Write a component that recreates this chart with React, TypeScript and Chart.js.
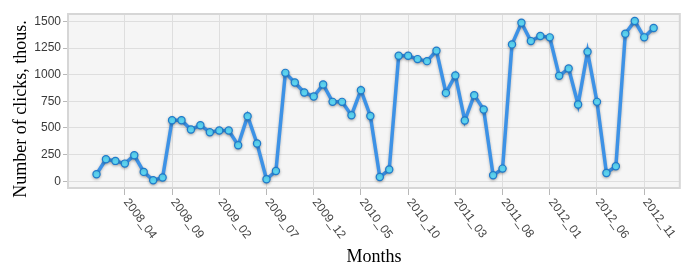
import React, { useEffect, useRef } from "react";
import { Chart, registerables } from "chart.js";

Chart.register(...registerables);

const months: string[] = [
  "2008_01", "2008_02", "2008_03", "2008_04", "2008_05", "2008_06", "2008_07", "2008_08", "2008_09", "2008_10", "2008_11", "2008_12",
  "2009_01", "2009_02", "2009_03", "2009_04", "2009_05", "2009_06", "2009_07", "2009_08", "2009_09", "2009_10", "2009_11", "2009_12",
  "2010_01", "2010_02", "2010_03", "2010_04", "2010_05", "2010_06", "2010_07", "2010_08", "2010_09", "2010_10", "2010_11", "2010_12",
  "2011_01", "2011_02", "2011_03", "2011_04", "2011_05", "2011_06", "2011_07", "2011_08", "2011_09", "2011_10", "2011_11", "2011_12",
  "2012_01", "2012_02", "2012_03", "2012_04", "2012_05", "2012_06", "2012_07", "2012_08", "2012_09", "2012_10", "2012_11", "2012_12",
];

const clicks: number[] = [
  66, 207, 191, 166, 244, 88, 9, 35, 573, 573, 485, 526,
  460, 476, 476, 338, 611, 354, 19, 97, 1017, 927, 833, 795,
  908, 745, 745, 620, 855, 613, 40, 110, 1177, 1177, 1146, 1127,
  1224, 829, 993, 570, 808, 673, 56, 119, 1284, 1487, 1315, 1362,
  1350, 989, 1058, 720, 1215, 745, 78, 141, 1384, 1503, 1350, 1437,
];

const xTickLabels: string[] = [
  "2008_04", "2008_09", "2009_02", "2009_07", "2009_12", "2010_05",
  "2010_10", "2011_03", "2011_08", "2012_01", "2012_06", "2012_11",
];

const yTicks: number[] = [0, 250, 500, 750, 1000, 1250, 1500];

const yTitle = "Number of clicks, thous.";
const xTitle = "Months";

const decor = {
  id: "decor",
  beforeDraw(chart: any) {
    const { ctx, chartArea: a } = chart;
    ctx.save();
    ctx.fillStyle = "#f5f5f5";
    ctx.fillRect(a.left, a.top, a.right - a.left, a.bottom - a.top);
    ctx.restore();
  },
  beforeDatasetsDraw(chart: any) {
    const { ctx, chartArea: a } = chart;
    ctx.save();
    ctx.strokeStyle = "#d6d6d6";
    ctx.lineWidth = 2;
    ctx.strokeRect(a.left, a.top, a.right - a.left, a.bottom - a.top);
    ctx.restore();
  },
  beforeDatasetDraw(chart: any) {
    const ctx = chart.ctx;
    ctx.save();
    ctx.shadowColor = "rgba(0,0,0,0.25)";
    ctx.shadowBlur = 3;
    ctx.shadowOffsetX = 0;
    ctx.shadowOffsetY = 1;
  },
  afterDatasetDraw(chart: any) {
    chart.ctx.restore();
  },
  afterDraw(chart: any) {
    const { ctx, chartArea: a } = chart;
    const xs = chart.scales.x;
    ctx.save();
    ctx.font = '12px "Liberation Sans", Arial, sans-serif';
    ctx.fillStyle = "#444";
    ctx.textAlign = "left";
    ctx.textBaseline = "middle";
    xTickLabels.forEach((lab) => {
      const px = xs.getPixelForValue(months.indexOf(lab));
      ctx.save();
      ctx.translate(px + 1, a.bottom + 12);
      ctx.rotate((53 * Math.PI) / 180);
      ctx.fillText(lab, 0, 0);
      ctx.restore();
    });
    ctx.fillStyle = "#000";
    ctx.font = '18px "Liberation Serif", "Times New Roman", serif';
    ctx.textAlign = "center";
    ctx.textBaseline = "middle";
    ctx.fillText(xTitle, (a.left + a.right) / 2, 257);
    ctx.save();
    ctx.translate(21, 109);
    ctx.rotate(-Math.PI / 2);
    ctx.fillText(yTitle, 0, 0);
    ctx.restore();
    ctx.restore();
  },
};

export default function App() {
  const ref = useRef<HTMLCanvasElement | null>(null);

  useEffect(() => {
    document.body.style.margin = "0";
    const canvas = ref.current;
    if (!canvas) return;
    const chart = new Chart(canvas, {
      type: "line",
      data: {
        datasets: [
          {
            label: "Clicks",
            data: clicks.map((v, i) => ({ x: i, y: v })),
            borderColor: "#3d92e6",
            borderWidth: 3.5,
            pointRadius: 3.6,
            pointBackgroundColor: "#5fdaf8",
            pointBorderColor: "#1f7acb",
            pointBorderWidth: 1.2,
            tension: 0,
            fill: false,
          },
        ],
      },
      options: {
        responsive: false,
        animation: false,
        layout: { padding: { top: 14, right: 2, left: 0, bottom: 0 } },
        plugins: {
          legend: { display: false },
          tooltip: { enabled: false },
          title: { display: false },
        },
        scales: {
          x: {
            type: "linear",
            min: -3.02,
            max: 61.77,
            afterBuildTicks: (scale: any) => {
              scale.ticks = xTickLabels.map((l) => ({ value: months.indexOf(l) }));
            },
            afterFit: (scale: any) => {
              scale.height = 78;
            },
            ticks: { display: false },
            grid: {
              color: "#dedede",
              lineWidth: 1,
              drawTicks: true,
              tickLength: 7,
              tickColor: "#b8b8b8",
            },
            border: { display: false },
          },
          y: {
            type: "linear",
            min: -63,
            max: 1569,
            afterBuildTicks: (scale: any) => {
              scale.ticks = yTicks.map((v) => ({ value: v }));
            },
            afterFit: (scale: any) => {
              scale.width = 68;
            },
            ticks: {
              padding: 2,
              color: "#3a3a3a",
              font: { family: '"Liberation Sans", Arial, sans-serif', size: 12 },
              callback: (v: any) => String(v),
            },
            grid: {
              color: "#dedede",
              lineWidth: 1,
              drawTicks: true,
              tickLength: 5,
              tickColor: "#b8b8b8",
            },
            border: { display: false },
          },
        },
      },
      plugins: [decor],
    } as any);
    return () => chart.destroy();
  }, []);

  return <canvas ref={ref} width={685} height={266} style={{ display: "block" }} />;
}
